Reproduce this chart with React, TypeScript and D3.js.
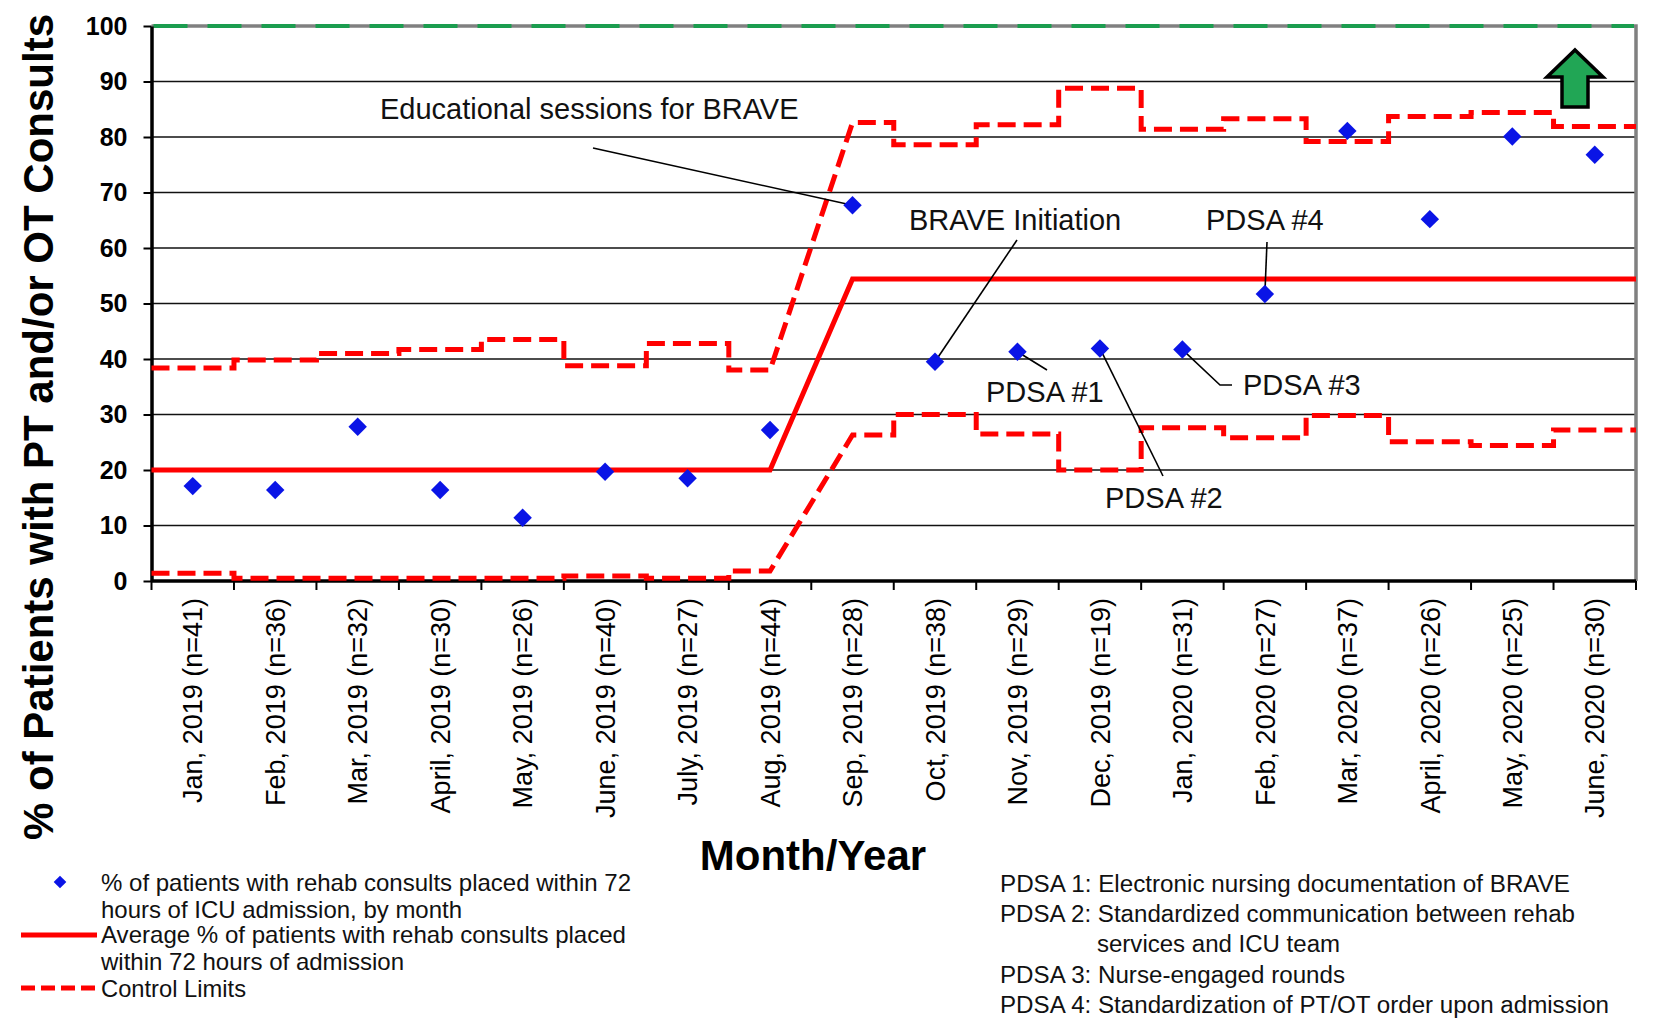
import * as d3 from "d3";
import React, { useRef, useEffect } from "react";

const months = [
    "Jan, 2019 (n=41)", "Feb, 2019 (n=36)", "Mar, 2019 (n=32)", "April, 2019 (n=30)",
    "May, 2019 (n=26)", "June, 2019 (n=40)", "July, 2019 (n=27)", "Aug, 2019 (n=44)",
    "Sep, 2019 (n=28)", "Oct, 2019 (n=38)", "Nov, 2019 (n=29)", "Dec, 2019 (n=19)",
    "Jan, 2020 (n=31)", "Feb, 2020 (n=27)", "Mar, 2020 (n=37)", "April, 2020 (n=26)",
    "May, 2020 (n=25)", "June, 2020 (n=30)",
];
const pct = [17.1, 16.4, 27.8, 16.4, 11.4, 19.7, 18.5, 27.2, 67.7, 39.5, 41.3, 41.9, 41.7, 51.7, 81.1, 65.2, 80.1, 76.8];
const centerLine = [20, 20, 20, 20, 20, 20, 20, 20, 54.4, 54.4, 54.4, 54.4, 54.4, 54.4, 54.4, 54.4, 54.4, 54.4];
const ucl = [38.4, 39.8, 41.0, 41.7, 43.5, 38.8, 42.8, 38.0, 82.6, 78.6, 82.2, 88.8, 81.4, 83.3, 79.2, 83.7, 84.4, 81.9];
const lcl = [1.4, 0.5, 0.5, 0.5, 0.5, 0.9, 0.5, 1.8, 26.3, 30.0, 26.5, 20.0, 27.6, 25.8, 29.8, 25.1, 24.4, 27.2];
const goal = 100;
const yTicks = [0, 10, 20, 30, 40, 50, 60, 70, 80, 90, 100];

const legendLines = [
    { text: "% of patients with rehab consults placed within 72", y: 891, w: 530 },
    { text: "hours of ICU admission, by month", y: 918, w: 361 },
    { text: "Average % of patients with rehab consults placed", y: 943, w: 525 },
    { text: "within 72 hours of admission", y: 970, w: 303 },
    { text: "Control Limits", y: 997, w: 145 },
];
const pdsaLines = [
    { text: "PDSA 1: Electronic nursing documentation of BRAVE", x: 1000, y: 892, w: 570 },
    { text: "PDSA 2: Standardized communication between rehab", x: 1000, y: 922, w: 575 },
    { text: "services and ICU team", x: 1097, y: 952, w: 243 },
    { text: "PDSA 3: Nurse-engaged rounds", x: 1000, y: 983, w: 345 },
    { text: "PDSA 4: Standardization of PT/OT order upon admission", x: 1000, y: 1013, w: 609 },
];
const notes = [
    { text: "Educational sessions for BRAVE", x: 380, y: 119, pts: [[593, 148]], idx: 8 },
    { text: "BRAVE Initiation", x: 909, y: 230, pts: [[1017, 240]], idx: 9 },
    { text: "PDSA #1", x: 986, y: 402, pts: [[1047, 370]], idx: 10 },
    { text: "PDSA #2", x: 1105, y: 508, pts: [[1163, 476]], idx: 11 },
    { text: "PDSA #3", x: 1243, y: 395, pts: [[1232, 385], [1220, 385]], idx: 12 },
    { text: "PDSA #4", x: 1206, y: 230, pts: [[1267, 242]], idx: 13 },
];

const FONT = "'Liberation Sans', Arial, Helvetica, sans-serif";

function App() {
    const ref = useRef(null);
    const width = 1654;
    const height = 1027;
    const left = 151.5, right = 1636, top = 26, bottom = 581;

    useEffect(() => {
        const svg = d3.select(ref.current);
        svg.selectAll("*").remove();

        const x = d3.scaleBand().domain(months).range([left, right]);
        const y = d3.scaleLinear().domain([0, 100]).range([bottom, top]);
        const bw = x.bandwidth();
        const cx = (i) => x(months[i]) + bw / 2;

        // step line, with a ramp from the last month of phase 1 to the first of phase 2
        const stepPoints = (vals) => {
            const pts = [];
            vals.forEach((v, i) => {
                const s = x(months[i]);
                const brkAfter = i < vals.length - 1 && centerLine[i + 1] !== centerLine[i];
                const brkBefore = i > 0 && centerLine[i - 1] !== centerLine[i];
                pts.push([brkBefore ? s + bw / 2 : s, y(v)]);
                pts.push([brkAfter ? s + bw / 2 : s + bw, y(v)]);
            });
            return pts;
        };
        const line = d3.line();

        // grid
        svg.append("g")
            .selectAll("line")
            .data(yTicks.filter((t) => t > 0 && t < 100))
            .join("line")
            .attr("x1", left).attr("x2", right)
            .attr("y1", (d) => y(d)).attr("y2", (d) => y(d))
            .attr("stroke", "#111").attr("stroke-width", 1.6);

        // gray frame top/right
        svg.append("path")
            .attr("d", `M${left},${y(100)}H${right}V${y(0)}`)
            .attr("fill", "none").attr("stroke", "#808080").attr("stroke-width", 3.5);

        // goal line
        svg.append("line")
            .attr("x1", left + 2).attr("x2", right - 2)
            .attr("y1", y(goal)).attr("y2", y(goal))
            .attr("stroke", "#1b9d4f").attr("stroke-width", 4)
            .attr("stroke-dasharray", "34,20");

        // y axis
        const yAxis = svg.append("g")
            .attr("transform", `translate(${left},0)`)
            .call(d3.axisLeft(y).tickValues(yTicks).tickSize(8).tickSizeOuter(0).tickPadding(16));
        yAxis.select(".domain").attr("stroke", "#000").attr("stroke-width", 3.5);
        yAxis.selectAll(".tick line").attr("stroke", "#000").attr("stroke-width", 2);
        yAxis.selectAll(".tick text")
            .attr("font-family", FONT).attr("font-size", 25).attr("font-weight", "bold").attr("fill", "#000");

        // x axis
        svg.append("line")
            .attr("x1", left).attr("x2", right)
            .attr("y1", y(0)).attr("y2", y(0))
            .attr("stroke", "#000").attr("stroke-width", 3.5);
        svg.append("g")
            .selectAll("line")
            .data([...months.map((m) => x(m)), right])
            .join("line")
            .attr("x1", (d) => d).attr("x2", (d) => d)
            .attr("y1", y(0)).attr("y2", y(0) + 9)
            .attr("stroke", "#000").attr("stroke-width", 2);
        svg.append("g")
            .selectAll("text")
            .data(months)
            .join("text")
            .attr("transform", (d) => `translate(${x(d) + bw / 2},598) rotate(-90)`)
            .attr("text-anchor", "end")
            .attr("dy", "0.36em")
            .attr("font-family", FONT).attr("font-size", 27).attr("fill", "#000")
            .text((d) => d);

        // control limits and average
        [ucl, lcl].forEach((vals) => {
            svg.append("path")
                .attr("d", line(stepPoints(vals)))
                .attr("fill", "none").attr("stroke", "#ff0000").attr("stroke-width", 5)
                .attr("stroke-dasharray", "18,8");
        });
        svg.append("path")
            .attr("d", line(stepPoints(centerLine)))
            .attr("fill", "none").attr("stroke", "#ff0000").attr("stroke-width", 5);

        // annotation leaders and labels
        notes.forEach((n) => {
            const pts = [...n.pts, [cx(n.idx), y(pct[n.idx])]];
            svg.append("path")
                .attr("d", line(pts))
                .attr("fill", "none").attr("stroke", "#000").attr("stroke-width", 1.6);
            svg.append("text")
                .attr("x", n.x).attr("y", n.y)
                .attr("font-family", FONT).attr("font-size", 29).attr("fill", "#111")
                .text(n.text);
        });

        // monthly points
        const diamond = d3.symbol(d3.symbolSquare, 170)();
        svg.append("g")
            .selectAll("path")
            .data(pct)
            .join("path")
            .attr("d", diamond)
            .attr("transform", (d, i) => `translate(${cx(i)},${y(d)}) rotate(45)`)
            .attr("fill", "#0a14e6");

        // improvement arrow
        svg.append("path")
            .attr("d", "M1575,50 L1603,77 L1588,77 L1588,107 L1562,107 L1562,77 L1547,77 Z")
            .attr("fill", "#21a655").attr("stroke", "#000").attr("stroke-width", 3.5)
            .attr("stroke-linejoin", "miter");

        // axis titles
        svg.append("text")
            .attr("transform", "translate(53,427) rotate(-90)")
            .attr("text-anchor", "middle")
            .attr("font-family", FONT).attr("font-size", 42).attr("font-weight", "bold")
            .text("% of Patients with PT and/or OT Consults");
        svg.append("text")
            .attr("x", 813).attr("y", 870)
            .attr("text-anchor", "middle")
            .attr("font-family", FONT).attr("font-size", 42).attr("font-weight", "bold")
            .text("Month/Year");

        // legend
        svg.append("path")
            .attr("d", d3.symbol(d3.symbolSquare, 80)())
            .attr("transform", "translate(60,882) rotate(45)")
            .attr("fill", "#0a14e6");
        svg.append("line")
            .attr("x1", 21).attr("x2", 97).attr("y1", 935).attr("y2", 935)
            .attr("stroke", "#ff0000").attr("stroke-width", 5);
        svg.append("line")
            .attr("x1", 21).attr("x2", 97).attr("y1", 988).attr("y2", 988)
            .attr("stroke", "#ff0000").attr("stroke-width", 5)
            .attr("stroke-dasharray", "14,6");
        svg.append("g")
            .selectAll("text")
            .data(legendLines)
            .join("text")
            .attr("x", 101).attr("y", (d) => d.y)
            .attr("textLength", (d) => d.w).attr("lengthAdjust", "spacingAndGlyphs")
            .attr("font-family", FONT).attr("font-size", 24).attr("fill", "#111")
            .text((d) => d.text);
        svg.append("g")
            .selectAll("text")
            .data(pdsaLines)
            .join("text")
            .attr("x", (d) => d.x).attr("y", (d) => d.y)
            .attr("textLength", (d) => d.w).attr("lengthAdjust", "spacingAndGlyphs")
            .attr("font-family", FONT).attr("font-size", 23).attr("fill", "#111")
            .text((d) => d.text);
    }, []);

    return (
        <svg
            ref={ref}
            width={width}
            height={height}
            style={{ position: "absolute", left: 0, top: 0, background: "#fff" }}
        ></svg>
    );
}

export default App;
